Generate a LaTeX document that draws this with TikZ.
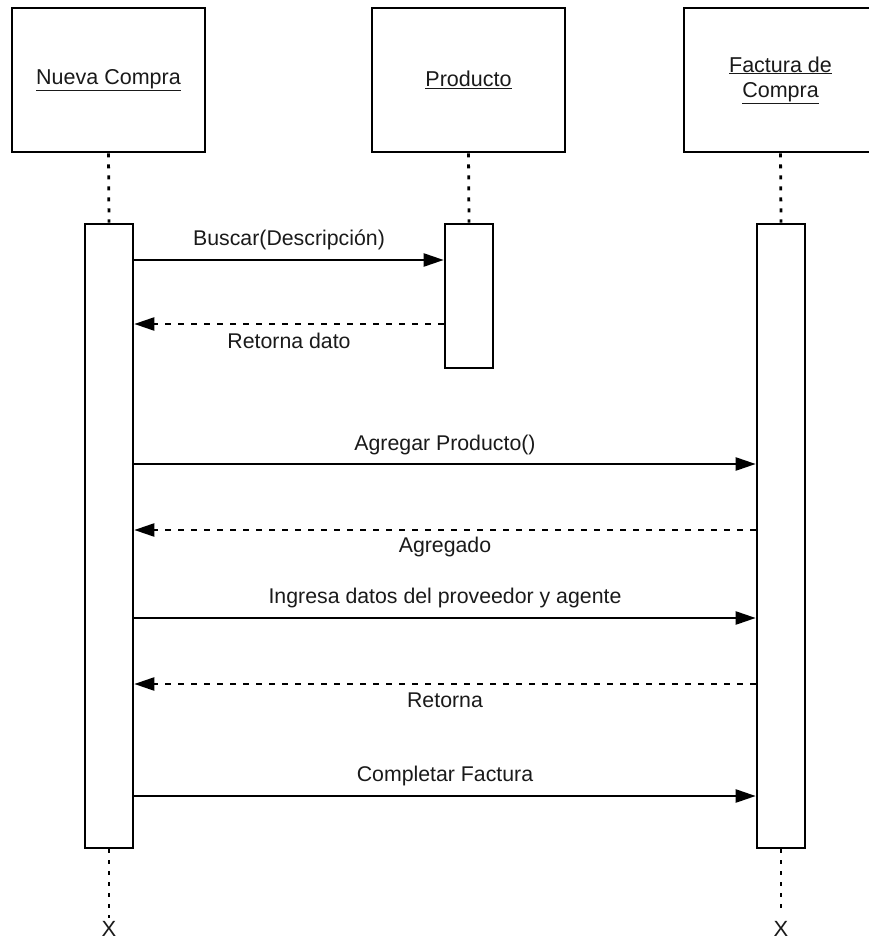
\documentclass[tikz,border=0pt]{standalone}
\usepackage{fontspec}
\setmainfont{Liberation Sans}
\usetikzlibrary{arrows.meta}
\definecolor{ink}{HTML}{1A1A1A}
\begin{document}
\begin{tikzpicture}[x=1pt,y=-1pt,
  lbl/.style={font=\fontsize{21.3}{25}\selectfont, text=ink, inner sep=0pt},
  head/.style={draw=black, line width=2.8pt, fill=white, minimum width=193pt,
    minimum height=144pt, inner sep=0pt, align=center,
    font=\fontsize{21.5}{25}\selectfont, text=ink},
  bar/.style={draw=black, line width=2.6pt, fill=white, minimum width=48pt, inner sep=0pt},
  life/.style={draw=black, line width=2.8pt, dash pattern=on 4pt off 7pt},
  call/.style={draw=black, line width=2.3pt, -{Triangle[length=20pt,width=13pt]}},
  reply/.style={draw=black, line width=2.3pt, dash pattern=on 6pt off 7pt,
    -{Triangle[length=20pt,width=13pt]}},
  endx/.style={font=\fontsize{22}{22}\selectfont, text=ink, inner sep=0pt}]
\useasboundingbox (0,0) rectangle (868,941);
\fill[white] (0,0) rectangle (868,941);

% lifeline heads
\node[head] (nc) at (108.5,80) {\underline{Nueva Compra}};
\node[head] (pr) at (468.5,80) {\underline{Producto}};
\node[head] (fc) at (780.5,80) {\underline{Factura de}\\\underline{Compra}};

% activation bars
\node[bar, minimum height=624pt] (ncbar) at (109,536) {};
\node[bar, minimum height=144pt] (prbar) at (469,296) {};
\node[bar, minimum height=624pt] (fcbar) at (781,536) {};

% lifelines
\draw[life] (nc.south) -- (ncbar.north);
\draw[life] (pr.south) -- (prbar.north);
\draw[life] (fc.south) -- (fcbar.north);

% destruction marks
\node[endx] (ncx) at (109,929) {X};
\node[endx] (fcx) at (781,929) {X};
\coordinate (ncend) at (109,918);
\coordinate (fcend) at (781,910);
\draw[life] (ncbar.south) -- (ncend);
\draw[life] (fcbar.south) -- (fcend);

% messages
\draw[call]  (ncbar.east |- 0,260) -- (prbar.west |- 0,260);
\draw[reply] (prbar.west |- 0,324) -- (ncbar.east |- 0,324);
\draw[call]  (ncbar.east |- 0,464) -- (fcbar.west |- 0,464);
\draw[reply] (fcbar.west |- 0,530) -- (ncbar.east |- 0,530);
\draw[call]  (ncbar.east |- 0,618) -- (fcbar.west |- 0,618);
\draw[reply] (fcbar.west |- 0,684) -- (ncbar.east |- 0,684);
\draw[call]  (ncbar.east |- 0,796) -- (fcbar.west |- 0,796);

% message labels
\node[lbl] (l1) at (289,240) {Buscar(Descripción)};
\node[lbl] (l2) at (289,341) {Retorna dato};
\node[lbl] (l3) at (445,445) {Agregar Producto()};
\node[lbl] (l4) at (445,547) {Agregado};
\node[lbl] (l5) at (445,598) {Ingresa datos del proveedor y agente};
\node[lbl] (l6) at (445,700) {Retorna};
\node[lbl] (l7) at (445,776) {Completar Factura};
\end{tikzpicture}
\end{document}
